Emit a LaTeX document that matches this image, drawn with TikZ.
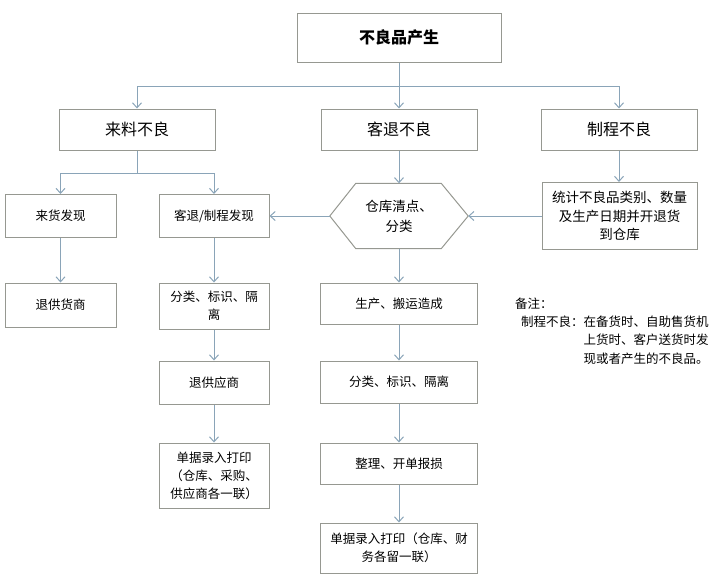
\documentclass[tikz,border=0pt]{standalone}
\usepackage{fontspec}
\setmainfont{Noto Sans CJK SC}
\usetikzlibrary{calc}
\usetikzlibrary{arrows.meta}
\definecolor{boxgray}{RGB}{150,152,145}
\definecolor{linkblue}{RGB}{138,164,184}
\tikzset{
    box/.style={draw=boxgray, line width=1pt, inner sep=0pt, align=center, font=\fontsize{12.5}{18}\selectfont},
    bigbox/.style={box, minimum width=156pt, minimum height=41pt, font=\fontsize{16}{20}\selectfont},
    colbox/.style={box, minimum width=110pt},
    midbox/.style={box, minimum width=157pt},
    link/.style={draw=linkblue, line width=1pt, -{Straight Barb[length=5pt,width=9pt]}},
    wire/.style={draw=linkblue, line width=1pt}
}

\begin{document}
\begin{tikzpicture}[x=1pt,y=-1pt]
\useasboundingbox (0,0) rectangle (719,579);
\node[bigbox, minimum width=204pt, minimum height=49pt, font=\fontsize{16}{20}\selectfont\bfseries] (top) at (399,37.5) {不良品产生};
\node[bigbox] (laiLiao) at (137,129.5) {来料不良};
\node[bigbox] (keTui) at (399,129.5) {客退不良};
\node[bigbox] (zhiCheng) at (619,129.5) {制程不良};
\coordinate (bus) at (399,86);
\draw[wire] (top) -- (bus);
\draw[link] (bus) -| (laiLiao);
\draw[link] (bus) -- (keTui);
\draw[link] (bus) -| (zhiCheng);
\node[colbox, minimum width=111pt, minimum height=43pt] (laiHuo) at (60.5,216) {来货发现};
\node[colbox, minimum height=43pt] (keTuiFaXian) at (214,216) {客退/制程发现};
\coordinate (fork) at (137,173);
\draw[wire] (laiLiao) -- (fork);
\draw[link] (fork) -| (laiHuo);
\draw[link] (fork) -| (keTuiFaXian);
\node[minimum width=138pt, minimum height=65pt, inner sep=0pt, align=center, font=\fontsize{13.5}{20}\selectfont] (hex) at (399,216) {仓库清点、\\分类};
\draw[boxgray, line width=1pt] (hex.west) -- ($(hex.north west)+(26,0)$) -- ($(hex.north east)+(-27,0)$) -- (hex.east) -- ($(hex.south east)+(-27,0)$) -- ($(hex.south west)+(26,0)$) -- cycle;
\node[box, minimum width=155pt, minimum height=67pt, font=\fontsize{13.5}{18.5}\selectfont] (tongJi) at (619.5,216) {统计不良品类别、数量\\及生产日期并开退货\\到仓库};
\draw[link] (keTui) -- (hex);
\draw[link] (zhiCheng) -- (tongJi.north -| zhiCheng);
\draw[link] (tongJi) -- (hex);
\draw[link] (hex) -- (keTuiFaXian);
\node[colbox, minimum width=111pt, minimum height=44pt] (tuiGongHuo) at (60.5,305) {退供货商};
\node[colbox, minimum height=46pt] (fenLeiA) at (214,306) {分类、标识、隔\\离};
\node[colbox, minimum height=43pt] (tuiGongYing) at (214,382.5) {退供应商};
\node[colbox, minimum height=65pt] (danJuA) at (214,475.5) {单据录入打印\\（仓库、采购、\\供应商各一联）};
\draw[link] (laiHuo) -- (tuiGongHuo);
\draw[link] (keTuiFaXian) -- (fenLeiA);
\draw[link] (fenLeiA) -- (tuiGongYing);
\draw[link] (tuiGongYing) -- (danJuA);
\node[midbox, minimum height=41pt] (shengChan) at (399,303.5) {生产、搬运造成};
\node[midbox, minimum height=42pt] (fenLeiB) at (399,382) {分类、标识、隔离};
\node[midbox, minimum height=41pt] (zhengLi) at (399,463.5) {整理、开单报损};
\node[midbox, minimum height=50pt] (danJuB) at (399,548) {单据录入打印（仓库、财\\务各留一联）};
\draw[link] (hex) -- (shengChan);
\draw[link] (shengChan) -- (fenLeiB);
\draw[link] (fenLeiB) -- (zhengLi);
\draw[link] (zhengLi) -- (danJuB);
\node[anchor=west, inner sep=0pt, font=\fontsize{12.5}{18}\selectfont] (note) at (515,304) {备注：};
\node[anchor=north west, inner sep=0pt, font=\fontsize{12.5}{18.5}\selectfont] (noteBody) at (521,313) {\begin{tabular}{@{}l@{}l@{}}制程不良：&在备货时、自助售货机\\&上货时、客户送货时发\\&现或者产生的不良品。\end{tabular}};
\end{tikzpicture}
\end{document}
